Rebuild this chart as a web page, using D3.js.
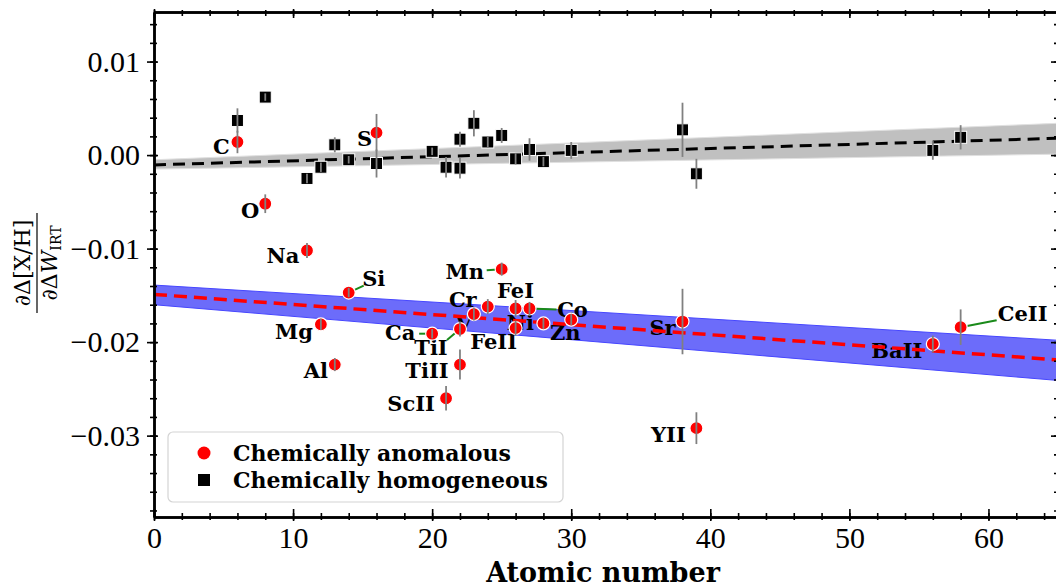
<!DOCTYPE html>
<html>
<head>
<meta charset="utf-8">
<script src="https://cdn.jsdelivr.net/npm/d3@7"></script>
<style>
  body { margin: 0; background: #fff; }
  text { fill: #000; }
</style>
</head>
<body>
<svg id="chart" width="1056" height="588"></svg>
<script>
// chemically anomalous stars (red circles)
const anomNames = ["C", "O", "Na", "Mg", "Al", "Si", "S", "Ca", "ScII", "TiI", "TiII", "V",
  "Cr", "Mn", "FeI", "FeII", "Co", "Ni", "Zn", "Sr", "YII", "BaII", "CeII"];
const anomZ = [6, 8, 11, 12, 13, 14, 16, 20, 21, 22, 22, 23, 24, 25, 26, 26, 27, 28, 30, 38, 39, 56, 58];
const anomVal = [0.0014, -0.0052, -0.0102, -0.0181, -0.0224, -0.0147, 0.0024, -0.0191, -0.0260,
  -0.0186, -0.0224, -0.0170, -0.0162, -0.0122, -0.0164, -0.0185, -0.0164, -0.0180, -0.0176,
  -0.0178, -0.0292, -0.0202, -0.0184];
const anomErr = [0.0012, 0.0010, 0.0008, 0.0006, 0.0007, 0.0005, 0.0020, 0.0005, 0.0013,
  0.0008, 0.0016, 0.0007, 0.0008, 0.0007, 0.0009, 0.0008, 0.0007, 0.0006, 0.0006,
  0.0035, 0.0017, 0.0009, 0.0019];

// chemically homogeneous stars (black squares)
const homZ = [6, 8, 11, 12, 13, 14, 16, 20, 21, 22, 22, 23, 24, 25, 26, 27, 28, 30, 38, 39, 56, 58];
const homVal = [0.0037, 0.0062, -0.0025, -0.0013, 0.0011, -0.0005, -0.0009, 0.0004, -0.0013,
  0.0017, -0.0014, 0.0034, 0.0014, 0.0021, -0.0004, 0.0006, -0.0007, 0.0005, 0.0027,
  -0.0020, 0.0005, 0.0019];
const homErr = [0.0013, 0.0004, 0.0005, 0.0005, 0.0008, 0.0004, 0.0015, 0.0004, 0.0011,
  0.0008, 0.0011, 0.0014, 0.0006, 0.0008, 0.0006, 0.0012, 0.0005, 0.0009, 0.0029,
  0.0016, 0.0010, 0.0013];

// linear fits and their bands, read at the two ends of the axis
const fitZ = [0, 65];
const homFit = [-0.00105, 0.0018];
const homLo = [-0.0015, 0.0001];
const homHi = [-0.0005, 0.0034];
const anomFit = [-0.0149, -0.0219];
const anomLo = [-0.0160, -0.0241];
const anomHi = [-0.0139, -0.0198];

// tick labels
const xTicks = [0, 10, 20, 30, 40, 50, 60];
const yTicks = [-0.03, -0.02, -0.01, 0, 0.01];

// label placement (pixels relative to the point), and optional leader line ends
const labelPos = {
  C: [-16, 5], O: [-15, 7], Na: [-24, 5], Mg: [-27, 7], Al: [-19, 6], Si: [25, -14],
  S: [-12, 6], Ca: [-32, -1], ScII: [-35, 5], TiI: [-29, 18], TiII: [-33, 6], V: [-10, 9],
  Cr: [-25, -7], Mn: [-37, 2], FeI: [0, -18], FeII: [-22, 13], Co: [43, 1], Ni: [-23, -1],
  Zn: [-6, 13], Sr: [-20, 6], YII: [-28, 6], BaII: [-36, 7], CeII: [62, -14]
};
const leaders = {
  Si: [15, -7], Mn: [-15, 1], Ca: [-13, 0], TiI: [-13, 11], Co: [27, 1], CeII: [36, -7]
};

const m = { left: 154, right: 1058, top: 12, bottom: 517 };
const svg = d3.select("#chart");

const x = d3.scaleLinear().domain([0, 65]).range([m.left, m.right]);
const y = d3.scaleLinear().domain([-0.0387, 0.0153]).range([m.bottom, m.top]);

svg.append("clipPath").attr("id", "clip")
  .append("rect").attr("x", m.left).attr("y", m.top)
  .attr("width", m.right - m.left).attr("height", m.bottom - m.top);
const plot = svg.append("g").attr("clip-path", "url(#clip)");

// bands
const band = (lo, hi) => d3.area()
  .x((d, i) => x(fitZ[i]))
  .y0((d, i) => y(lo[i]))
  .y1((d, i) => y(hi[i]))(fitZ);

plot.append("path").attr("d", band(homLo, homHi))
  .attr("fill", "#c0c0c0").attr("stroke", "#e0e0e0").attr("stroke-width", 1);
plot.append("path").attr("d", band(anomLo, anomHi))
  .attr("fill", "rgb(108,108,250)").attr("stroke", "rgb(70,70,255)").attr("stroke-width", 1);

const anom = anomNames.map((n, i) => ({ name: n, z: anomZ[i], v: anomVal[i], e: anomErr[i] }));
const hom = homZ.map((z, i) => ({ z, v: homVal[i], e: homErr[i] }));

// leader lines and element labels
plot.selectAll(".leader").data(anom.filter(d => leaders[d.name]))
  .join("line")
  .attr("x1", d => x(d.z)).attr("y1", d => y(d.v))
  .attr("x2", d => x(d.z) + leaders[d.name][0])
  .attr("y2", d => y(d.v) + leaders[d.name][1])
  .attr("stroke", "#1a8a1a").attr("stroke-width", 2);

plot.selectAll(".lab").data(anom)
  .join("text")
  .attr("x", d => x(d.z) + labelPos[d.name][0])
  .attr("y", d => y(d.v) + labelPos[d.name][1])
  .attr("text-anchor", "middle")
  .attr("dominant-baseline", "central")
  .attr("font-family", "DejaVu Serif")
  .attr("font-weight", "bold")
  .attr("font-size", 21)
  .text(d => d.name);

// fit lines
const fitLine = vals => d3.line().x((d, i) => x(fitZ[i])).y((d, i) => y(vals[i]))(fitZ);
plot.append("path").attr("d", fitLine(homFit))
  .attr("fill", "none").attr("stroke", "#000").attr("stroke-width", 3)
  .attr("stroke-dasharray", "12,7");
plot.append("path").attr("d", fitLine(anomFit))
  .attr("fill", "none").attr("stroke", "#ff0000").attr("stroke-width", 3.5)
  .attr("stroke-dasharray", "13,7");

// markers
plot.selectAll(".sq").data(hom).join("rect")
  .attr("x", d => x(d.z) - 6).attr("y", d => y(d.v) - 6)
  .attr("width", 12).attr("height", 12)
  .attr("fill", "#000").attr("stroke", "#fff").attr("stroke-width", 1);

plot.selectAll(".dot").data(anom).join("circle")
  .attr("cx", d => x(d.z)).attr("cy", d => y(d.v)).attr("r", 6.5)
  .attr("fill", "#ff0000").attr("stroke", "#fff").attr("stroke-width", 1.2);

// error bars
plot.selectAll(".eb").data(hom.concat(anom)).join("line")
  .attr("x1", d => x(d.z)).attr("x2", d => x(d.z))
  .attr("y1", d => y(d.v - d.e)).attr("y2", d => y(d.v + d.e))
  .attr("stroke", "#808080").attr("stroke-width", 1.8);

// axes
const fmt = d3.format(".2f");
const xMinor = d3.range(0, 66, 2);
const yMinor = d3.range(-0.038, 0.0152, 0.002);

function drawAxis(axis, transform, inward, sign, horizontal) {
  const g = svg.append("g").attr("transform", transform).call(axis);
  g.select(".domain").attr("stroke", "#000").attr("stroke-width", 2.5);
  g.selectAll(".tick line").attr("stroke", "#000").attr("stroke-width", 1.6)
    .attr(horizontal ? "y1" : "x1", sign * inward);
  g.selectAll("text").attr("font-family", "Liberation Serif").attr("font-size", 30).attr("fill", "#000");
  return g;
}

// minor ticks first, majors on top
drawAxis(d3.axisBottom(x).tickValues(xMinor).tickFormat("").tickSizeInner(3).tickSizeOuter(0),
  `translate(0,${m.bottom})`, 4, -1, true);
drawAxis(d3.axisTop(x).tickValues(xMinor).tickFormat("").tickSizeInner(2).tickSizeOuter(0),
  `translate(0,${m.top})`, 4, 1, true);
drawAxis(d3.axisLeft(y).tickValues(yMinor).tickFormat("").tickSizeInner(4).tickSizeOuter(0),
  `translate(${m.left},0)`, 3, 1, false);
drawAxis(d3.axisRight(y).tickValues(yMinor).tickFormat("").tickSizeInner(3).tickSizeOuter(0),
  `translate(${m.right},0)`, 4, -1, false);

drawAxis(d3.axisBottom(x).tickValues(xTicks).tickFormat(d3.format("d")).tickSizeInner(4).tickSizeOuter(0).tickPadding(6),
  `translate(0,${m.bottom})`, 8, -1, true);
drawAxis(d3.axisTop(x).tickValues(xTicks).tickFormat("").tickSizeInner(3).tickSizeOuter(0),
  `translate(0,${m.top})`, 6, 1, true);
drawAxis(d3.axisLeft(y).tickValues(yTicks).tickFormat(fmt).tickSizeInner(7).tickSizeOuter(0).tickPadding(7),
  `translate(${m.left},0)`, 4, 1, false);
drawAxis(d3.axisRight(y).tickValues(yTicks).tickFormat("").tickSizeInner(4).tickSizeOuter(0),
  `translate(${m.right},0)`, 7, -1, false);

// axis titles
svg.append("text")
  .attr("x", 603).attr("y", 582)
  .attr("text-anchor", "middle")
  .attr("font-family", "DejaVu Serif").attr("font-weight", "bold").attr("font-size", 27)
  .text("Atomic number");

const yl = svg.append("g").attr("transform", "translate(37,263) rotate(-90)")
  .attr("font-family", "DejaVu Serif").attr("font-size", 22);
yl.append("text").attr("x", 0).attr("y", -7).attr("text-anchor", "middle").text("∂Δ[X/H]");
yl.append("line").attr("x1", -50).attr("x2", 50).attr("y1", 0).attr("y2", 0)
  .attr("stroke", "#000").attr("stroke-width", 1.2);
const den = yl.append("text").attr("x", 0).attr("y", 20).attr("text-anchor", "middle");
den.append("tspan").text("∂Δ");
den.append("tspan").attr("font-style", "italic").text("W");
den.append("tspan").attr("font-size", 14).attr("dy", 4).text("IRT");

// legend
const lg = svg.append("g");
lg.append("rect").attr("x", 168).attr("y", 432).attr("width", 395).attr("height", 70).attr("rx", 5)
  .attr("fill", "#fff").attr("fill-opacity", 0.85).attr("stroke", "#d4d4d4").attr("stroke-width", 1.2);
lg.append("circle").attr("cx", 204).attr("cy", 453).attr("r", 6.5).attr("fill", "#ff0000");
lg.append("rect").attr("x", 198).attr("y", 474).attr("width", 12).attr("height", 12).attr("fill", "#000");
[["Chemically anomalous", 453], ["Chemically homogeneous", 480]].forEach(([t, yy]) => {
  lg.append("text").attr("x", 233).attr("y", yy).attr("dominant-baseline", "central")
    .attr("font-family", "DejaVu Serif").attr("font-weight", "bold").attr("font-size", 22).text(t);
});
</script>
</body>
</html>
